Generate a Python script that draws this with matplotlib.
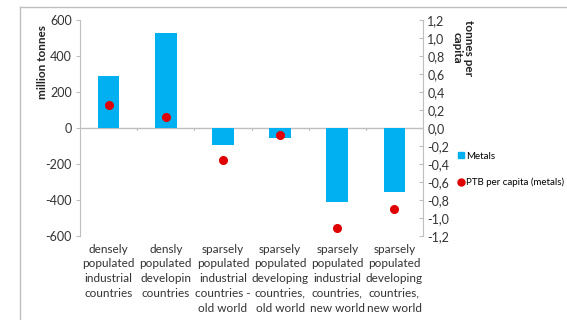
import matplotlib
matplotlib.use("Agg")
import matplotlib.pyplot as plt
from matplotlib.lines import Line2D

plt.rcParams['font.family'] = ['Lato', 'DejaVu Sans']

# country groups and values
categories = ["densely\npopulated\nindustrial\ncountries",
              "densly\npopulated\ndevelopin\ncountries",
              "sparsely\npopulated\nindustrial\ncountries -\nold world",
              "sparsely\npopulated\ndeveloping\ncountries,\nold world",
              "sparsely\npopulated\nindustrial\ncountries,\nnew world",
              "sparsely\npopulated\ndeveloping\ncountries,\nnew world"]
metals = [290, 525, -95, -55, -410, -355]          # million tonnes
ptb_per_capita = [0.26, 0.12, -0.36, -0.08, -1.11, -0.90]  # tonnes per capita

left_ticks = [600, 400, 200, 0, -200, -400, -600]
right_ticks = [1.2, 1.0, 0.8, 0.6, 0.4, 0.2, 0.0, -0.2, -0.4, -0.6, -0.8, -1.0, -1.2]

BLUE = "#00B0F0"
RED = "#E00000"
GRAY = "#BFBFBF"

fig = plt.figure(figsize=(5.67, 3.2), dpi=100)
ax = fig.add_axes([80 / 567, 1 - 236 / 320, 343 / 567, 216 / 320])
ax2 = ax.twinx()

x = list(range(len(categories)))
ax.bar(x, metals, width=0.38, color=BLUE, zorder=2)
ax2.plot(x, ptb_per_capita, 'o', color=RED, markersize=5.5, zorder=3)

ax.set_xlim(-0.5, len(categories) - 0.5)
ax.set_ylim(-600, 600)
ax2.set_ylim(-1.2, 1.2)

ax.set_yticks(left_ticks)
ax.set_yticklabels([str(v) for v in left_ticks], fontsize=9, color="#333333")
ax2.set_yticks(right_ticks)
ax2.set_yticklabels([("%.1f" % v).replace(".", ",") for v in right_ticks],
                    fontsize=9, color="#333333")

for a in (ax, ax2):
    for s in ("top", "bottom"):
        a.spines[s].set_visible(False)
ax.spines["right"].set_visible(False)
ax2.spines["left"].set_visible(False)
ax.spines["left"].set_color(GRAY)
ax2.spines["right"].set_color(GRAY)
ax.tick_params(axis='y', direction='out', length=3, color=GRAY, pad=3)
ax2.tick_params(axis='y', direction='in', length=3, color=GRAY, pad=3)

# zero line with boundary ticks
ax.axhline(0, color=GRAY, linewidth=1, zorder=1)
ax.set_xticks([])
for b in [i + 0.5 for i in x[:-1]]:
    ax.plot([b, b], [0, -12], color=GRAY, linewidth=0.8, zorder=1)

# category labels under the plot
for i, lab in enumerate(categories):
    ax.text(i, -0.035, lab, transform=ax.get_xaxis_transform(), ha='center', va='top',
            fontsize=8.5, color="#333333", linespacing=1.42)

fig.text(42 / 567, 1 - 62 / 320, "million tonnes", rotation=90, ha='center', va='center',
         fontsize=8.5, fontweight='bold', color="#222222")
fig.text(463 / 567, 1 - 20 / 320, "tonnes per\ncapita", rotation=270, ha='center', va='top',
         fontsize=8.5, fontweight='bold', color="#222222", linespacing=1.0)

handles = [Line2D([], [], marker='s', linestyle='none', color=BLUE, markersize=5),
           Line2D([], [], marker='o', linestyle='none', color=RED, markersize=5)]
fig.legend(handles, ["Metals", "PTB per capita (metals)"], loc='upper left',
           bbox_to_anchor=(452 / 567, 1 - 148 / 320), frameon=False, fontsize=7.0,
           handletextpad=0.05, handlelength=1.0, labelspacing=1.75, borderaxespad=0)

# outer frame
fig.add_artist(Line2D([20 / 567, 1], [1 - 7 / 320, 1 - 7 / 320], color=GRAY, linewidth=1))
fig.add_artist(Line2D([20 / 567, 20 / 567], [0, 1 - 7 / 320], color=GRAY, linewidth=1))

fig.savefig("out.png", dpi=100)
